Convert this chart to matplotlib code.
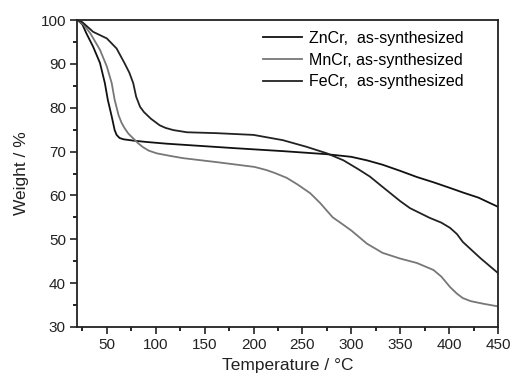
import numpy as np
from matplotlib import pyplot as plt
from matplotlib.ticker import MultipleLocator

# TGA curves
t_zn = [20, 25, 29, 36, 43, 48, 51, 55, 58, 60, 63, 67, 77, 90, 111, 145, 179, 230, 275, 300, 316, 332, 350, 367, 384, 401, 415, 430, 450]
w_zn = [100, 99, 97, 93.9, 90.2, 85.6, 81.8, 78, 74.9, 73.8, 73.1, 72.8, 72.5, 72.2, 71.8, 71.3, 70.8, 70.1, 69.4, 68.8, 68, 67, 65.6, 64.2, 63, 61.7, 60.6, 59.5, 57.4]

t_mn = [20, 26, 33, 43, 50, 55, 58, 62, 65, 68, 72, 77, 82, 87, 93, 101, 115, 128, 162, 201, 213, 222, 234, 245, 258, 268, 281, 290, 300, 316,
        332, 350, 367, 384, 392, 401, 408, 414, 422, 435, 450]
w_mn = [100, 99, 97, 93.2, 89.4, 85.6, 81.8, 78.3, 76.6, 75.4, 74.1, 73, 71.9, 71, 70.2, 69.6, 69, 68.5, 67.6, 66.5, 65.8, 65.1, 64, 62.5, 60.5, 58.3, 55, 53.6, 52, 49,
        46.9, 45.6, 44.6, 43, 41.5, 39.1, 37.6, 36.6, 35.9, 35.3, 34.7]

t_fe = [20, 25, 36, 50, 60, 68, 73, 77, 80, 84, 88, 95, 104, 110, 118, 132, 162, 200, 230, 254, 275, 292, 307, 319, 330, 340, 350, 360, 380,
        392, 401, 408, 414, 432, 450]
w_fe = [100, 99.5, 97.3, 95.8, 93.5, 90.2, 88, 85.6, 82.5, 80.2, 79, 77.5, 76, 75.4, 74.9, 74.4, 74.2, 73.8, 72.6, 71.1, 69.6, 68, 66, 64.3, 62.3, 60.5, 58.7, 57.1, 54.9,
        53.8, 52.6, 51.2, 49.4, 45.7, 42.3]

labels = ["ZnCr,  as-synthesized", "MnCr, as-synthesized", "FeCr,  as-synthesized"]

plt.rcParams['font.family'] = ['Liberation Sans', 'DejaVu Sans']

fig = plt.figure(figsize=(5.12, 3.78), dpi=100)
ax = fig.add_axes([77/512, 1-327/378, (498-77)/512, (327-20)/378])

ax.plot(t_zn, w_zn, color='#111111', lw=1.3, label=labels[0])
ax.plot(t_mn, w_mn, color='#777777', lw=1.3, label=labels[1])
ax.plot(t_fe, w_fe, color='#222222', lw=1.3, label=labels[2])

ax.set_xlim(19.5, 450)
ax.set_ylim(30, 100)
ax.xaxis.set_major_locator(MultipleLocator(50))
ax.xaxis.set_minor_locator(MultipleLocator(25))
ax.yaxis.set_major_locator(MultipleLocator(10))
ax.yaxis.set_minor_locator(MultipleLocator(5))
ax.tick_params(which='major', direction='out', length=5, width=1.2, labelsize=11, colors='#222222', pad=3)
ax.tick_params(which='minor', direction='out', length=3, width=1.2)
ax.tick_params(top=False, right=False)
for s in ax.spines.values():
    s.set_linewidth(1.3)
    s.set_color('#222222')

ax.set_xlabel("Temperature / °C", fontsize=12.5, color='#222222', labelpad=4)
ax.set_ylabel("Weight / %", fontsize=12.5, color='#222222', labelpad=8)

ax.legend(loc='upper left', bbox_to_anchor=(263/512, 1-31/378), bbox_transform=fig.transFigure,
          frameon=False, fontsize=11.5, handlelength=2.45, handletextpad=0.45,
          labelspacing=0.42, borderpad=0, borderaxespad=0)

plt.savefig("out.png", dpi=100)
